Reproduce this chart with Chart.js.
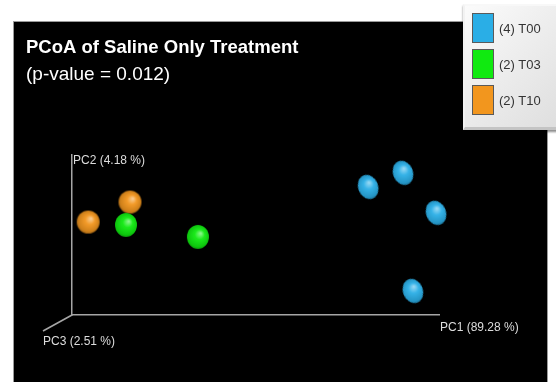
<!DOCTYPE html>
<html><head><meta charset="utf-8">
<script src="https://cdn.jsdelivr.net/npm/chart.js@4.4.1/dist/chart.umd.min.js"></script>
<style>
html,body{margin:0;padding:0;background:#fff;width:556px;height:382px;overflow:hidden;font-family:"Liberation Sans",Arial,sans-serif}
#wrap{position:relative;width:556px;height:382px}
#c{position:absolute;left:0;top:0}
#legend{position:absolute;left:463px;top:4px;width:100px;height:126px;box-sizing:border-box;
  background:linear-gradient(135deg,#fbfbfb 0%,#ececec 50%,#dedede 100%);
  border-top:2px solid #f8f8f8;border-left:2px solid #f2f2f2;border-bottom:3px solid #c4c4c4;
  box-shadow:0 2px 2px rgba(0,0,0,0.45)}
.item{position:absolute;left:7px;height:30px;display:flex;align-items:center}
.sw{width:20px;height:28px;border:1px solid #5a5a5a;box-sizing:content-box}
.lbl{margin-left:5px;font-size:13px;color:#333;font-family:"Liberation Sans",Arial,sans-serif}
</style></head><body>
<div id="wrap"><canvas id="c" width="556" height="382"></canvas><div id="legend"></div></div>
<script>
const seriesNames = ['(4) T00', '(2) T03', '(2) T10'];
const seriesColors = ['#2aaee6', '#10ea10', '#f2961e'];
const t00PC1 = [0.807, 0.902, 0.992, 0.929];
const t00PC2 = [0.800, 0.888, 0.638, 0.150];
const t03PC1 = [0.147, 0.343];
const t03PC2 = [0.563, 0.488];
const t10PC1 = [0.044, 0.158];
const t10PC2 = [0.581, 0.706];
const axisTitles = ['PC1 (89.28 %)', 'PC2 (4.18 %)', 'PC3 (2.51 %)'];
const chartTitle = 'PCoA of Saline Only Treatment';
const chartSubtitle = '(p-value = 0.012)';

function shade(hex, f) {
  const n = parseInt(hex.slice(1), 16);
  let r = (n >> 16) & 255, g = (n >> 8) & 255, b = n & 255;
  if (f >= 0) { r += (255 - r) * f; g += (255 - g) * f; b += (255 - b) * f; }
  else { r *= (1 + f); g *= (1 + f); b *= (1 + f); }
  return 'rgb(' + Math.round(r) + ',' + Math.round(g) + ',' + Math.round(b) + ')';
}
function sphere(color, rx, ry) {
  const c = document.createElement('canvas');
  c.width = Math.ceil(rx * 2 + 2); c.height = Math.ceil(ry * 2 + 2);
  const g = c.getContext('2d');
  const cx = c.width / 2, cy = c.height / 2;
  const grd = g.createRadialGradient(cx + rx * 0.25, cy - ry * 0.3, 0.5, cx, cy, Math.max(rx, ry) * 1.1);
  grd.addColorStop(0, shade(color, 0.5));
  grd.addColorStop(0.35, shade(color, 0.05));
  grd.addColorStop(0.8, shade(color, -0.15));
  grd.addColorStop(1, shade(color, -0.45));
  g.fillStyle = grd;
  g.beginPath(); g.ellipse(cx, cy, rx, ry, 0, 0, Math.PI * 2); g.fill();
  return c;
}
function pts(xs, ys) { return xs.map((x, i) => ({x: x, y: ys[i]})); }

const dataSets = [[t00PC1, t00PC2], [t03PC1, t03PC2], [t10PC1, t10PC2]];
const sizes = [[10, 12.5], [11, 12], [11.5, 11.5]];
const rotations = [-22, 0, 0];

const lg = document.getElementById('legend');
seriesNames.forEach((n, i) => {
  const d = document.createElement('div');
  d.className = 'item'; d.style.top = (7 + i * 36) + 'px';
  d.innerHTML = '<div class="sw" style="background:' + seriesColors[i] + '"></div><span class="lbl">' + n + '</span>';
  lg.appendChild(d);
});

const decor = {
  id: 'decor',
  beforeDraw(chart) {
    const ctx = chart.ctx;
    ctx.save();
    ctx.fillStyle = '#fff'; ctx.fillRect(0, 0, 556, 382);
    ctx.fillStyle = '#000'; ctx.fillRect(14, 22, 533, 360);
    ctx.strokeStyle = '#9a9a9a'; ctx.lineWidth = 1;
    ctx.strokeRect(13.5, 21.5, 534, 362);
    ctx.restore();
  },
  beforeDatasetsDraw(chart) {
    const ctx = chart.ctx, xs = chart.scales.x, ys = chart.scales.y;
    const ox = xs.getPixelForValue(0), oy = ys.getPixelForValue(0);
    ctx.save();
    ctx.strokeStyle = '#a6a6a6'; ctx.lineWidth = 1.5;
    ctx.beginPath(); ctx.moveTo(ox, oy); ctx.lineTo(ox - 29, oy + 16); ctx.stroke();
    ctx.fillStyle = '#dcdcdc';
    ctx.font = '12px "Liberation Sans", Arial, sans-serif';
    ctx.textBaseline = 'alphabetic';
    ctx.fillText(axisTitles[1], ox + 1, ys.getPixelForValue(1) + 9);
    ctx.fillText(axisTitles[0], xs.getPixelForValue(1) + 1, oy + 16);
    ctx.fillText(axisTitles[2], ox - 29, oy + 30);
    ctx.fillStyle = '#fff';
    ctx.font = 'bold 18.5px "Liberation Sans", Arial, sans-serif';
    ctx.fillText(chartTitle, 26, 53);
    ctx.font = '19px "Liberation Sans", Arial, sans-serif';
    ctx.fillText(chartSubtitle, 26, 80);
    ctx.restore();
  }
};

const axisOpts = {
  type: 'linear', min: 0, max: 1, display: true,
  grid: {display: false, drawTicks: false},
  ticks: {display: false},
  border: {display: true, color: '#a6a6a6', width: 1.5}
};

new Chart(document.getElementById('c'), {
  type: 'scatter',
  data: {
    datasets: dataSets.map((d, i) => ({
      label: seriesNames[i],
      data: pts(d[0], d[1]),
      pointStyle: sphere(seriesColors[i], sizes[i][0], sizes[i][1]),
      rotation: rotations[i],
      pointRadius: 11,
      backgroundColor: seriesColors[i],
      clip: false
    }))
  },
  options: {
    responsive: false,
    devicePixelRatio: 1,
    animation: false,
    layout: {padding: {left: 72, right: 117, top: 155, bottom: 67}},
    scales: {x: axisOpts, y: Object.assign({}, axisOpts)},
    plugins: {legend: {display: false}, tooltip: {enabled: false}, title: {display: false}}
  },
  plugins: [decor]
});
</script>
</body></html>
